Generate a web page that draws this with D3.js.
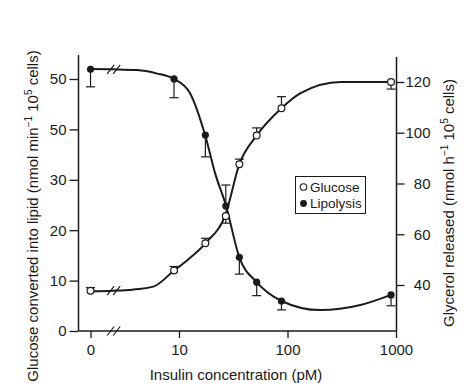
<!DOCTYPE html>
<html>
<head>
<meta charset="utf-8">
<script src="https://cdn.jsdelivr.net/npm/d3@7"></script>
<style>
  html, body { margin: 0; padding: 0; background: #fff; }
  svg { display: block; font-family: "Liberation Sans", Arial, Helvetica, sans-serif; }
  text { fill: #1a1a1a; }
</style>
</head>
<body>
<svg id="chart" width="474" height="389"></svg>
<script>
// ---------- data ----------
const insulin = [0, 9, 17.5, 27, 36, 52, 88, 900];                 // pM
const glucose = [8.0, 12.0, 17.4, 22.8, 33.1, 38.8, 44.2, 49.4];   // left axis
const glucoseErr = [0.6, 0.8, 1.0, -1.4, 1.0, 1.5, 2.3, -1.4];
const lipolysis = [125.0, 121.2, 99.1, 71.1, 50.9, 41.1, 33.7, 36.1]; // right axis
const lipolysisErr = [-6.9, -7.4, -8.6, 8.3, -6.6, -5.3, -3.5, -4.3];

// fitted curves
const glucoseCurveX = [0, 2.5, 3.7, 5.8, 9, 12, 17.5, 27, 36, 52, 88, 132, 310, 900];
const glucoseCurveY = [7.9, 8.0, 8.2, 8.8, 12.0, 14.1, 17.4, 23.3, 33.1, 38.8, 44.2, 47.2, 49.4, 49.4];
const lipoCurveX = [0, 2.5, 4.1, 6.2, 9, 12.6, 17.4, 21.5, 27, 36, 52, 88, 200, 470, 900];
const lipoCurveY = [125.1, 125.0, 124.7, 123.4, 121.2, 115.7, 99.1, 84.1, 71.5, 50.9, 41.1, 33.7, 30.1, 32.1, 36.1];

const xTicks = [0, 10, 100, 1000];
const xTickLabels = ["0", "10", "100", "1000"];
const yLeftTicks = [0, 10, 20, 30, 40, 50];
const yLeftTickLabels = ["0", "10", "20", "30", "50", "50"];
const yRightTicks = [40, 60, 80, 100, 120];
const yRightTickLabels = ["40", "60", "80", "100", "120"];
const seriesNames = ["Glucose", "Lipolysis"];

// ---------- layout ----------
const ZERO_AT = 1.53;   // where the "0" category sits on the broken log axis
const BREAK_AT = 2.5;   // position of the axis break marks
const svg = d3.select("#chart");
const ink = "#1a1a1a";

const x = d3.scaleLog().domain([10, 1000]).range([179, 396]);
const xPos = v => x(v === 0 ? ZERO_AT : v);
const yL = d3.scaleLinear().domain([0, 50]).range([331, 79]);
const yR = d3.scaleLinear().domain([40, 120]).range([285, 82]);

const leftX = 78.5, rightX = 396.5, baseY = 331;

// axis lines
svg.append("line").attr("x1", leftX).attr("x2", leftX).attr("y1", 55).attr("y2", baseY)
  .attr("stroke", ink).attr("stroke-width", 1.5);
svg.append("line").attr("x1", rightX).attr("x2", rightX).attr("y1", 57).attr("y2", baseY)
  .attr("stroke", ink).attr("stroke-width", 1.5);
svg.append("line").attr("x1", leftX).attr("x2", rightX).attr("y1", baseY).attr("y2", baseY)
  .attr("stroke", ink).attr("stroke-width", 1.5);

// left axis
const gL = svg.append("g").attr("transform", `translate(${leftX},0)`)
  .call(d3.axisLeft(yL).tickValues(yLeftTicks).tickSize(9).tickPadding(3)
    .tickFormat((d, i) => yLeftTickLabels[i]));
// right axis
const gR = svg.append("g").attr("transform", `translate(${rightX},0)`)
  .call(d3.axisRight(yR).tickValues(yRightTicks).tickSize(8).tickPadding(2)
    .tickFormat((d, i) => yRightTickLabels[i]));
// bottom axis
const gB = svg.append("g").attr("transform", `translate(0,${baseY})`)
  .call(d3.axisBottom(x).tickValues(xTicks.map(v => v === 0 ? ZERO_AT : v)).tickSize(7).tickPadding(6)
    .tickFormat((d, i) => xTickLabels[i]));

[gL, gR, gB].forEach(g => {
  g.select(".domain").remove();
  g.selectAll(".tick line").attr("stroke", ink).attr("stroke-width", 1.3);
  g.selectAll(".tick text").attr("fill", ink).style("font-size", "15px")
    .style("font-family", "'Liberation Sans', Arial, sans-serif");
});
gR.selectAll(".tick text").attr("text-anchor", "end").attr("x", 34);

// axis break marks
function breakMarks(cx, cy) {
  const g = svg.append("g");
  [-3, 3].forEach(dx => {
    g.append("line")
      .attr("x1", cx + dx - 3.5).attr("y1", cy + 4.5)
      .attr("x2", cx + dx + 3.5).attr("y2", cy - 4.5)
      .attr("stroke", ink).attr("stroke-width", 1.2);
  });
}
breakMarks(x(BREAK_AT), baseY);

// curves
const line = d3.line().curve(d3.curveMonotoneX);
const gPts = glucoseCurveX.map((v, i) => [xPos(v), yL(glucoseCurveY[i])]);
const lPts = lipoCurveX.map((v, i) => [xPos(v), yR(lipoCurveY[i])]);
svg.append("path").attr("d", line(gPts)).attr("fill", "none").attr("stroke", ink).attr("stroke-width", 2);
svg.append("path").attr("d", line(lPts)).attr("fill", "none").attr("stroke", ink).attr("stroke-width", 2);

// break marks on curves
const gBreakY = yL(glucoseCurveY[glucoseCurveX.indexOf(BREAK_AT)]);
const lBreakY = yR(lipoCurveY[lipoCurveX.indexOf(BREAK_AT)]);
breakMarks(x(BREAK_AT), gBreakY);
breakMarks(x(BREAK_AT), lBreakY);

// error bars
function errorBars(vals, errs, yScale) {
  const g = svg.append("g");
  vals.forEach((v, i) => {
    const cx = xPos(insulin[i]);
    const y0 = yScale(v), y1 = yScale(v + errs[i]);
    g.append("line").attr("x1", cx).attr("x2", cx).attr("y1", y0).attr("y2", y1)
      .attr("stroke", ink).attr("stroke-width", 1.2);
    g.append("line").attr("x1", cx - 4.5).attr("x2", cx + 4.5).attr("y1", y1).attr("y2", y1)
      .attr("stroke", ink).attr("stroke-width", 1.2);
  });
}
errorBars(glucose, glucoseErr, yL);
errorBars(lipolysis, lipolysisErr, yR);

// markers
svg.append("g").selectAll("circle").data(glucose).join("circle")
  .attr("cx", (d, i) => xPos(insulin[i])).attr("cy", d => yL(d)).attr("r", 3.4)
  .attr("fill", "#fff").attr("stroke", ink).attr("stroke-width", 1.2);
svg.append("g").selectAll("circle").data(lipolysis).join("circle")
  .attr("cx", (d, i) => xPos(insulin[i])).attr("cy", d => yR(d)).attr("r", 3.6)
  .attr("fill", ink);

// legend
const lg = svg.append("g");
lg.append("rect").attr("x", 295.5).attr("y", 176.5).attr("width", 70).attr("height", 37)
  .attr("fill", "#fff").attr("stroke", ink).attr("stroke-width", 1);
lg.append("circle").attr("cx", 303.5).attr("cy", 187).attr("r", 3.3)
  .attr("fill", "#fff").attr("stroke", ink).attr("stroke-width", 1.1);
lg.append("circle").attr("cx", 303.5).attr("cy", 203.5).attr("r", 3.4).attr("fill", ink);
lg.append("text").attr("x", 310).attr("y", 191.5).style("font-size", "13.5px").text(seriesNames[0]);
lg.append("text").attr("x", 310).attr("y", 208).style("font-size", "13.5px").text(seriesNames[1]);

// axis titles
svg.append("text").attr("x", 236).attr("y", 380).attr("text-anchor", "middle")
  .style("font-size", "15px").text("Insulin concentration (pM)");

const yl = svg.append("text").attr("transform", "translate(38,216) rotate(-90)")
  .attr("text-anchor", "middle").style("font-size", "15px");
yl.append("tspan").text("Glucose converted into lipid (nmol min");
yl.append("tspan").attr("dy", -6).style("font-size", "10px").text("\u22121");
yl.append("tspan").attr("dy", 6).text(" 10");
yl.append("tspan").attr("dy", -6).style("font-size", "10px").text("5");
yl.append("tspan").attr("dy", 6).text(" cells)");

const yr = svg.append("text").attr("transform", "translate(454,203) rotate(-90)")
  .attr("text-anchor", "middle").style("font-size", "15px");
yr.append("tspan").text("Glycerol released (nmol h");
yr.append("tspan").attr("dy", -6).style("font-size", "10px").text("\u22121");
yr.append("tspan").attr("dy", 6).text(" 10");
yr.append("tspan").attr("dy", -6).style("font-size", "10px").text("5");
yr.append("tspan").attr("dy", 6).text(" cells)");
</script>
</body>
</html>
